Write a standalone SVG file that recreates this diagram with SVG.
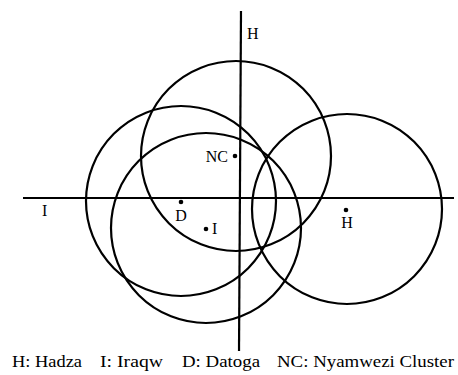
<svg xmlns="http://www.w3.org/2000/svg" width="458" height="375" viewBox="0 0 458 375">
<style>
.c{fill:none;stroke:#000;stroke-width:2.2}
.ax{stroke:#000;stroke-width:2.2}
.t{font-family:"Liberation Serif","Times New Roman",serif;font-size:16px;fill:#000}
.lg{font-family:"Liberation Serif","Times New Roman",serif;font-size:17px;fill:#000}
.d{fill:#000}
</style>
<rect width="458" height="375" fill="#fff"/>
<g id="axes">
<line class="ax" x1="23" y1="198" x2="454" y2="198"/>
<line class="ax" x1="241" y1="11" x2="239" y2="351"/>
<text class="t" x="42" y="216">I</text>
<text class="t" x="247" y="39">H</text>
</g>
<g id="node-NC">
<circle class="c" cx="236" cy="156" r="95"/>
<circle class="d" cx="235" cy="156" r="2.3"/>
<text class="t" x="228" y="162" text-anchor="end">NC</text>
</g>
<g id="node-D">
<circle class="c" cx="181" cy="201" r="95"/>
<circle class="d" cx="181" cy="202" r="2.3"/>
<text class="t" x="181" y="221" text-anchor="middle">D</text>
</g>
<g id="node-I">
<circle class="c" cx="206" cy="228" r="95"/>
<circle class="d" cx="206" cy="229" r="2.3"/>
<text class="t" x="212" y="234">I</text>
</g>
<g id="node-H">
<circle class="c" cx="347" cy="209" r="95"/>
<circle class="d" cx="346" cy="210" r="2.3"/>
<text class="t" x="347" y="228" text-anchor="middle">H</text>
</g>
<g id="legend">
<text class="lg" x="12" y="367" textLength="70" lengthAdjust="spacingAndGlyphs">H: Hadza</text>
<text class="lg" x="100" y="367" textLength="63" lengthAdjust="spacingAndGlyphs">I: Iraqw</text>
<text class="lg" x="182" y="367" textLength="78" lengthAdjust="spacingAndGlyphs">D: Datoga</text>
<text class="lg" x="277" y="367" textLength="177" lengthAdjust="spacingAndGlyphs">NC: Nyamwezi Cluster</text>
</g>
</svg>
